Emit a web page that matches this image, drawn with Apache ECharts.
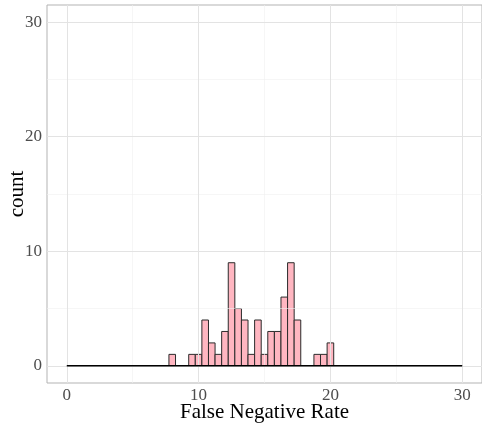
<!DOCTYPE html>
<html>
<head>
<meta charset="utf-8">
<script src="https://cdn.jsdelivr.net/npm/echarts@6/dist/echarts.min.js"></script>
<style>
  html, body { margin: 0; padding: 0; background: #fff; }
  #chart { width: 482px; height: 423px; }
</style>
</head>
<body>
<div id="chart"></div>
<script>
// histogram bins (centre of each 0.5-wide bin) and their counts
const binWidth = 0.5
const binCenters = [8, 9.5, 10, 10.5, 11, 11.5, 12, 12.5, 13, 13.5, 14, 14.5, 15, 15.5, 16, 16.5, 17, 17.5, 19, 19.5, 20]
const counts = [1, 1, 1, 4, 2, 1, 3, 9, 5, 4, 1, 4, 1, 3, 3, 6, 9, 4, 1, 1, 2]

// flat line along zero across the whole x range
const zeroLineX = [0, 30]

const majorTicks = [0, 10, 20, 30]
const minorTicks = [5, 15, 25]

const serif = 'Liberation Serif'
const chart = echarts.init(document.getElementById('chart'))

const gridLines = (axis, vals, color, width) =>
  vals.map(v => ({ [axis]: v, lineStyle: { color, width, type: 'solid' } }))

chart.setOption({
  animation: false,
  grid: {
    left: 47, right: 0, top: 5, bottom: 40,
    containLabel: false, outerBoundsMode: 'none',
    show: true, borderColor: '#b3b3b3', borderWidth: 1, backgroundColor: '#fff'
  },
  xAxis: {
    type: 'value', min: -1.5, max: 31.5,
    name: 'False Negative Rate', nameLocation: 'middle', nameGap: 29, nameMoveOverlap: false,
    nameTextStyle: { fontFamily: serif, fontSize: 21, color: '#000', verticalAlign: 'middle' },
    axisLine: { show: false },
    axisTick: { show: true, customValues: majorTicks, length: 3, lineStyle: { color: '#b3b3b3' } },
    axisLabel: { customValues: majorTicks, fontFamily: serif, fontSize: 17, color: '#4d4d4d', margin: 4 },
    splitLine: { show: false }
  },
  yAxis: {
    type: 'value', min: -1.5, max: 31.5,
    name: 'count', nameLocation: 'middle', nameGap: 30, nameRotate: 90, nameMoveOverlap: false,
    nameTextStyle: { fontFamily: serif, fontSize: 21, color: '#000', verticalAlign: 'middle' },
    axisLine: { show: false },
    axisTick: { show: true, customValues: majorTicks, length: 3, lineStyle: { color: '#b3b3b3' } },
    axisLabel: { customValues: majorTicks, fontFamily: serif, fontSize: 17, color: '#4d4d4d', margin: 5 },
    splitLine: { show: false }
  },
  series: [
    {
      // grid lines
      type: 'line', data: [], z: 0, silent: true,
      markLine: {
        symbol: 'none', silent: true, label: { show: false }, animation: false,
        data: [
          ...gridLines('xAxis', minorTicks, '#f0f0f0', 0.6),
          ...gridLines('yAxis', minorTicks, '#f0f0f0', 0.6),
          ...gridLines('xAxis', majorTicks, '#e3e3e3', 1),
          ...gridLines('yAxis', majorTicks, '#e3e3e3', 1)
        ]
      }
    },
    {
      type: 'line', z: 5, symbol: 'none', silent: true,
      data: zeroLineX.map(x => [x, 0]),
      lineStyle: { color: '#000', width: 1.5, opacity: 1 },
      emphasis: { disabled: true }
    },
    {
      type: 'custom', z: 2,
      data: binCenters.map((x, i) => [x, counts[i]]),
      encode: { x: 0, y: 1 },
      renderItem: (params, api) => {
        const x = api.value(0)
        const c = api.value(1)
        const p0 = api.coord([x - binWidth / 2, c])
        const p1 = api.coord([x + binWidth / 2, 0])
        return {
          type: 'rect',
          shape: { x: p0[0], y: p0[1], width: p1[0] - p0[0], height: p1[1] - p0[1] },
          style: { fill: '#ffb6c1', stroke: '#2b2b2b', lineWidth: 1 }
        }
      }
    }
  ]
})
</script>
</body>
</html>
